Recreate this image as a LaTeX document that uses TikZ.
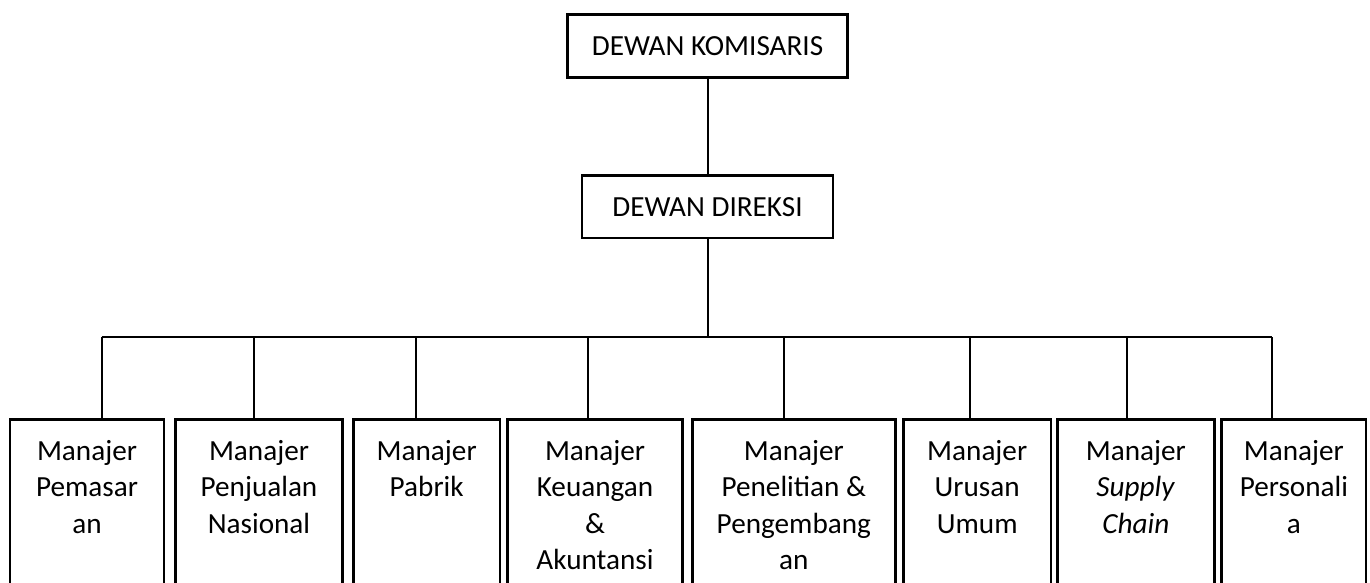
\documentclass[tikz,border=0pt]{standalone}
\usepackage{fontspec}
\setmainfont{Carlito}
\newcommand{\boxtext}[2]{\parbox[t]{#1}{\centering\fontsize{29.2pt}{36.5pt}\selectfont #2}}
\begin{document}
\begin{tikzpicture}[x=1pt,y=-1pt,
  topbox/.style={draw, line width=2.8pt, inner sep=0pt, outer sep=0pt, font=\fontsize{29.2pt}{36.5pt}\selectfont},
  mgrbox/.style={draw, line width=2.8pt, inner sep=0pt, outer sep=0pt, anchor=north, minimum height=220pt},
  mgrtext/.style={anchor=base, inner sep=0pt},
  conn/.style={line width=2pt}]
\path[use as bounding box, clip] (0,0) rectangle (1370,583);
\fill[white] (0,0) rectangle (1370,583);

\node[topbox, minimum width=279.6pt, minimum height=62.6pt] (kom) at (707.5,46) {DEWAN KOMISARIS};
\node[topbox, minimum width=251pt, minimum height=62.3pt] (dir) at (707.5,206.9) {DEWAN DIREKSI};

\node[mgrbox, minimum width=154pt]   (m1) at (87,419.3) {};
\node[mgrbox, minimum width=166.6pt] (m2) at (259,419.3) {};
\node[mgrbox, minimum width=146.7pt] (m3) at (426.7,419.3) {};
\node[mgrbox, minimum width=174.6pt] (m4) at (595,419.3) {};
\node[mgrbox, minimum width=203pt]   (m5) at (793.8,419.3) {};
\node[mgrbox, minimum width=147.7pt] (m6) at (977.2,419.3) {};
\node[mgrbox, minimum width=157pt]   (m7) at (1135.8,419.3) {};
\node[mgrbox, minimum width=144.3pt] (m8) at (1293.9,419.3) {};

\node[mgrtext] (t1) at (87,460) {\boxtext{150pt}{Manajer\\Pemasar\\an}};
\node[mgrtext] (t2) at (259,460) {\boxtext{160pt}{Manajer\\Penjualan\\Nasional}};
\node[mgrtext] (t3) at (426.7,460) {\boxtext{140pt}{Manajer\\Pabrik}};
\node[mgrtext] (t4) at (595,460) {\boxtext{170pt}{Manajer\\Keuangan\\\&\\Akuntansi}};
\node[mgrtext] (t5) at (793.8,460) {\boxtext{200pt}{Manajer\\Penelitian \&\\Pengembang\\an}};
\node[mgrtext] (t6) at (977.2,460) {\boxtext{140pt}{Manajer\\Urusan\\Umum}};
\node[mgrtext] (t7) at (1135.8,460) {\boxtext{150pt}{Manajer\\\textit{Supply}\\\textit{Chain}}};
\node[mgrtext] (t8) at (1293.9,460) {\boxtext{140pt}{Manajer\\Personali\\a}};

\coordinate (c1) at (101.7,337.3);
\coordinate (c2) at (254,337.3);
\coordinate (c3) at (416,337.3);
\coordinate (c4) at (588.3,337.3);
\coordinate (c5) at (784.3,337.3);
\coordinate (c6) at (970.3,337.3);
\coordinate (c7) at (1126.7,337.3);
\coordinate (c8) at (1272.3,337.3);
\coordinate (bus) at (708.3,337.3);

\draw[conn] (kom.south -| bus) -- (dir.north -| bus);
\draw[conn] (dir.south -| bus) -- (bus);
\draw[conn] (c1) -- (c8);
\foreach \i in {1,...,8} {
  \draw[conn] (c\i) -- (c\i |- m\i.north);
}
\end{tikzpicture}
\end{document}
